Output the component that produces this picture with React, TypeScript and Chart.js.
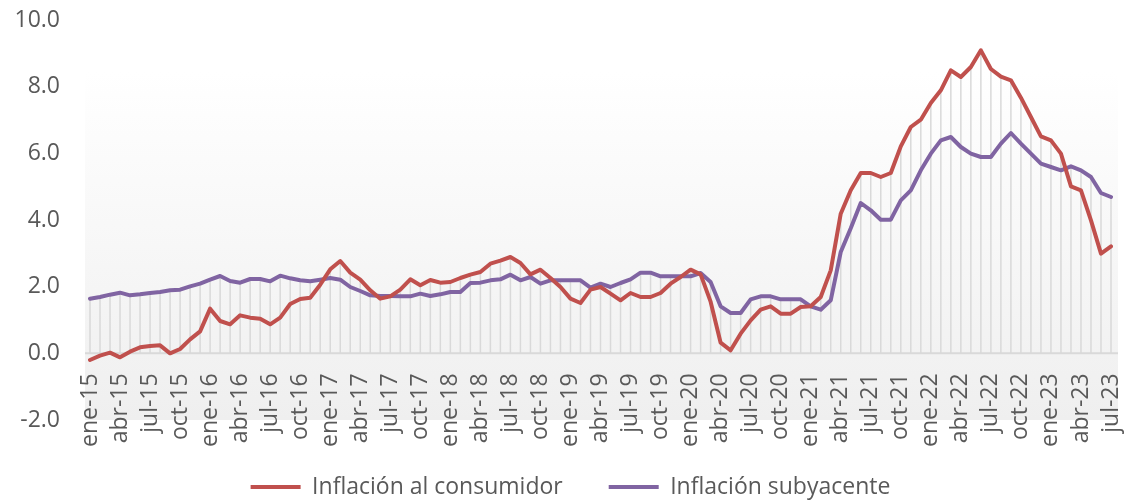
import React, { useEffect, useRef } from 'react';
import { Chart, registerables } from 'chart.js';

Chart.register(...registerables);

const MONTHS = ['ene', 'feb', 'mar', 'abr', 'may', 'jun', 'jul', 'ago', 'sep', 'oct', 'nov', 'dic'];
const YEARS = ['15', '16', '17', '18', '19', '20', '21', '22', '23'];
const MONTHS_IN_LAST_YEAR = 7;

const categories: string[] = [];
YEARS.forEach((y, yi) => {
  const count = yi === YEARS.length - 1 ? MONTHS_IN_LAST_YEAR : 12;
  for (let m = 0; m < count; m++) categories.push(`${MONTHS[m]}-${y}`);
});

const inflacionConsumidor = [
  -0.2, -0.07, 0.02, -0.12, 0.05, 0.18, 0.22, 0.24, 0.0, 0.13, 0.42, 0.66,
  1.34, 0.97, 0.87, 1.14, 1.07, 1.04, 0.87, 1.07, 1.48, 1.63, 1.67, 2.06,
  2.52, 2.77, 2.42, 2.21, 1.89, 1.64, 1.71, 1.91, 2.22, 2.04, 2.2, 2.12,
  2.14, 2.26, 2.36, 2.44, 2.69, 2.78, 2.89, 2.71, 2.37, 2.51, 2.26, 1.99,
  1.64, 1.51, 1.91, 1.99, 1.79, 1.59, 1.81, 1.69, 1.69, 1.81, 2.09, 2.29,
  2.51, 2.37, 1.55, 0.32, 0.09, 0.59, 0.99, 1.31, 1.41, 1.19, 1.19, 1.39,
  1.41, 1.69, 2.49, 4.19, 4.89, 5.41, 5.41, 5.29, 5.41, 6.21, 6.79, 7.01,
  7.51, 7.89, 8.49, 8.29, 8.59, 9.09, 8.53, 8.3, 8.19, 7.67, 7.09, 6.51,
  6.39, 5.99, 5.01, 4.89, 3.99, 2.99, 3.21,
];

const inflacionSubyacente = [
  1.64, 1.69, 1.76, 1.82, 1.74, 1.77, 1.81, 1.84, 1.89, 1.91, 2.01, 2.09,
  2.21, 2.32, 2.17, 2.12, 2.23, 2.23, 2.16, 2.33, 2.25, 2.19, 2.16, 2.21,
  2.26, 2.21, 1.99, 1.87, 1.74, 1.72, 1.72, 1.71, 1.71, 1.79, 1.72, 1.77,
  1.84, 1.84, 2.11, 2.12, 2.19, 2.22, 2.36, 2.19, 2.29, 2.09, 2.19, 2.19,
  2.19, 2.19, 1.97, 2.09, 1.99, 2.11, 2.22, 2.42, 2.42, 2.31, 2.31, 2.31,
  2.31, 2.41, 2.14, 1.41, 1.21, 1.21, 1.62, 1.71, 1.71, 1.62, 1.62, 1.62,
  1.41, 1.31, 1.59, 3.04, 3.75, 4.51, 4.29, 4.01, 4.01, 4.59, 4.89, 5.49,
  5.99, 6.39, 6.49, 6.19, 5.99, 5.89, 5.89, 6.29, 6.61, 6.29, 5.99, 5.69,
  5.59, 5.49, 5.61, 5.49, 5.29, 4.81, 4.69,
];

const SERIES_NAMES = ['Inflación al consumidor', 'Inflación subyacente'];
const SERIES_COLORS = ['#C0504D', '#8064A2'];
const Y_MIN = -2;
const Y_MAX = 10;
const Y_STEP = 2;
const LABEL_EVERY = 3;

const TEXT_COLOR = '#595959';
const FONT = { family: "'Open Sans', sans-serif", size: 23 };

const decorPlugin = {
  id: 'decor',
  beforeDraw(chart: any) {
    const { ctx, chartArea, scales } = chart;
    const y = scales.y;
    const top = y.getPixelForValue(8.45);
    const bottom = chartArea.bottom;
    const g = ctx.createLinearGradient(0, top, 0, bottom);
    g.addColorStop(0, '#ffffff');
    g.addColorStop(1, '#efefef');
    ctx.save();
    ctx.fillStyle = g;
    ctx.fillRect(chartArea.left - 5, top, chartArea.right - chartArea.left + 12, bottom - top);
    ctx.restore();
  },
  beforeDatasetsDraw(chart: any) {
    const { ctx, chartArea, scales } = chart;
    const x = scales.x;
    const y = scales.y;
    const a = chart.data.datasets[0].data as number[];
    const b = chart.data.datasets[1].data as number[];
    const y0 = y.getPixelForValue(0);
    ctx.save();
    ctx.strokeStyle = '#d9d9d9';
    ctx.lineWidth = 1.5;
    for (let i = 0; i < a.length; i++) {
      const v = Math.max(a[i], b[i]);
      if (v <= 0) continue;
      const px = x.getPixelForValue(i);
      ctx.beginPath();
      ctx.moveTo(px, y.getPixelForValue(v));
      ctx.lineTo(px, y0);
      ctx.stroke();
    }
    ctx.strokeStyle = '#d9d9d9';
    ctx.lineWidth = 2;
    ctx.beginPath();
    ctx.moveTo(chartArea.left - 5, y0);
    ctx.lineTo(chartArea.right + 7, y0);
    ctx.stroke();
    ctx.restore();
  },
};

export default function App() {
  const canvasRef = useRef<HTMLCanvasElement | null>(null);

  useEffect(() => {
    if (!canvasRef.current) return;
    const chart = new Chart(canvasRef.current, {
      type: 'line',
      data: {
        labels: categories,
        datasets: [
          {
            label: SERIES_NAMES[0],
            data: inflacionConsumidor,
            borderColor: SERIES_COLORS[0],
            backgroundColor: SERIES_COLORS[0],
            borderWidth: 4,
            pointRadius: 0,
            tension: 0,
            borderJoinStyle: 'round',
            borderCapStyle: 'round',
          },
          {
            label: SERIES_NAMES[1],
            data: inflacionSubyacente,
            borderColor: SERIES_COLORS[1],
            backgroundColor: SERIES_COLORS[1],
            borderWidth: 4,
            pointRadius: 0,
            tension: 0,
            borderJoinStyle: 'round',
            borderCapStyle: 'round',
          },
        ],
      },
      options: {
        animation: false,
        responsive: true,
        maintainAspectRatio: false,
        layout: { padding: { top: 20, left: 12, right: 0, bottom: -7.6 } },
        scales: {
          x: {
            type: 'category',
            position: { y: 0 } as any,
            grid: { display: false, drawTicks: false },
            border: { display: false },
            ticks: {
              autoSkip: false,
              minRotation: 90,
              maxRotation: 90,
              padding: 20,
              color: TEXT_COLOR,
              font: FONT,
              callback: (_v: any, i: number) => (i % LABEL_EVERY === 0 ? categories[i] : ''),
            },
            afterFit: (scale: any) => {
              scale.height = 0;
              scale.paddingTop = 0;
              scale.paddingBottom = 0;
              scale.paddingLeft = 0;
              scale.paddingRight = 18;
            },
          },
          y: {
            min: Y_MIN,
            max: Y_MAX,
            grid: { display: false, drawTicks: false },
            border: { display: false },
            ticks: {
              stepSize: Y_STEP,
              padding: 30,
              color: TEXT_COLOR,
              font: FONT,
              callback: (v: any) => Number(v).toFixed(1),
            },
            afterFit: (scale: any) => {
              scale.width = 78;
              scale.paddingTop = 0;
              scale.paddingBottom = 0;
            },
          },
        },
        plugins: {
          legend: {
            position: 'bottom',
            title: { display: true, text: '', font: { size: 8 }, padding: 0 },
            labels: {
              boxWidth: 50,
              boxHeight: 4,
              padding: 46,
              color: TEXT_COLOR,
              font: FONT,
              generateLabels: (c: any) =>
                Chart.defaults.plugins.legend.labels.generateLabels(c).map((l: any) => ({
                  ...l,
                  lineWidth: 0,
                })),
            },
          },
          tooltip: { enabled: false },
        },
      },
      plugins: [decorPlugin],
    });
    return () => chart.destroy();
  }, []);

  return (
    <div style={{ position: 'absolute', left: 0, top: 0, width: 1129, height: 501 }}>
      <canvas ref={canvasRef} />
    </div>
  );
}
